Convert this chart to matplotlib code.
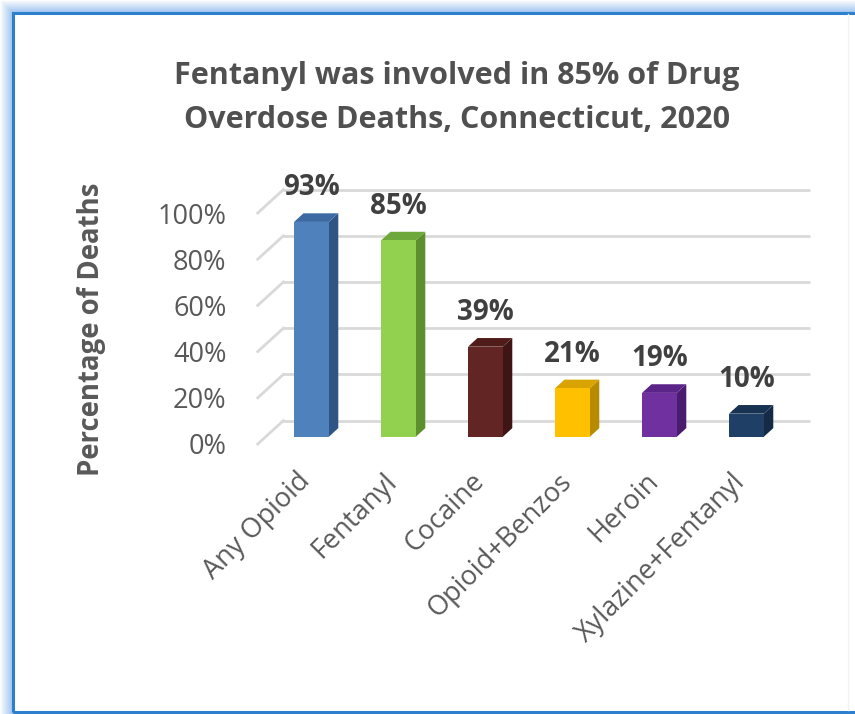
import matplotlib.pyplot as plt
from matplotlib.patches import Rectangle, Polygon
from matplotlib.transforms import ScaledTranslation

plt.rcParams['font.family'] = ['Open Sans', 'DejaVu Sans']

categories = ["Any Opioid", "Fentanyl", "Cocaine", "Opioid+Benzos", "Heroin", "Xylazine+Fentanyl"]
percent = [93, 85, 39, 21, 19, 10]
y_ticks = [0, 20, 40, 60, 80, 100]
y_tick_labels = ["0%", "20%", "40%", "60%", "80%", "100%"]

front_colors = ["#4F81BD", "#92D050", "#632523", "#FFC000", "#7030A0", "#1F3F66"]
side_colors = ["#2F5585", "#5E8F2E", "#3E1514", "#B88A00", "#4A1C70", "#142A47"]
top_colors = ["#3D6AA3", "#6FA83A", "#4F1C1A", "#D9A300", "#5B2488", "#183352"]

title = "Fentanyl was involved in 85% of Drug\nOverdose Deaths, Connecticut, 2020"

# 3d look: full floor depth in data units, bar placement inside that depth
DX, DY = 0.294, 10.1
BAR_FRONT, BAR_BACK = 0.31, 0.68
BAR_W = 0.40
FLOOR_L, FLOOR_R = -0.526, 5.526

fig = plt.figure(figsize=(8.55, 7.14), dpi=100)
W, H = 855, 714
ax_left, ax_right, ax_top, ax_bot = 232, 830, 150, 462
ax = fig.add_axes([ax_left / W, 1 - ax_bot / H, (ax_right - ax_left) / W, (ax_bot - ax_top) / H])
px_x, px_y = 87.0, 2.31
ax.set_xlim((ax_left - 303.5) / px_x, (ax_right - 303.5) / px_x)
ax.set_ylim((444 - ax_bot) / px_y, (444 - ax_top) / px_y)
ax.patch.set_visible(False)
for s in ax.spines.values():
    s.set_visible(False)

# back wall gridlines and the slanted side-wall lines
grid_c = "#D9D9D9"
for t in y_ticks:
    ax.plot([FLOOR_L + DX, FLOOR_R + DX], [t + DY, t + DY], color=grid_c, lw=2, zorder=1,
            solid_capstyle="butt")
    ax.plot([FLOOR_L, FLOOR_L + DX], [t, t + DY], color=grid_c, lw=2, zorder=1)

d = BAR_BACK - BAR_FRONT
for i, v in enumerate(percent):
    xl = i + BAR_FRONT * DX - BAR_W / 2
    xr = xl + BAR_W
    yb = BAR_FRONT * DY
    yt = yb + v
    ax.add_patch(Polygon([(xr, yb), (xr + d * DX, yb + d * DY), (xr + d * DX, yt + d * DY), (xr, yt)],
                         closed=True, facecolor=side_colors[i], edgecolor="none", zorder=2))
    ax.add_patch(Polygon([(xl, yt), (xr, yt), (xr + d * DX, yt + d * DY), (xl + d * DX, yt + d * DY)],
                         closed=True, facecolor=top_colors[i], edgecolor="none", zorder=2))
    ax.add_patch(Rectangle((xl, yb), BAR_W, v, facecolor=front_colors[i], edgecolor="none", zorder=3))
    ax.text(i + BAR_FRONT * DX, yt + d * DY + 11, f"{v}%", ha="center", va="center",
            fontsize=20, fontweight="bold", color="#404040", zorder=4)

ax.set_yticks(y_ticks)
ax.set_yticklabels(y_tick_labels, fontsize=19.5, color="#595959")
ax.tick_params(axis="y", length=0, pad=4)

ax.set_xticks(range(len(categories)))
ax.set_xticklabels(categories, rotation=45, ha="right", va="top", rotation_mode="anchor",
                   fontsize=19.5, color="#595959")
ax.tick_params(axis="x", length=0, pad=4)
shift = ScaledTranslation(-7 / 100, 0, fig.dpi_scale_trans)
for lab in ax.get_xticklabels():
    lab.set_transform(lab.get_transform() + shift)

fig.text(92 / W, 1 - 329 / H, "Percentage of Deaths", rotation=90, ha="center", va="center",
         fontsize=19.8, fontweight="bold", color="#595959")
fig.text(457 / W, 1 - 98 / H, title, ha="center", va="center", fontsize=22,
         fontweight="bold", color="#505050", linespacing=1.6)

# blue frame; the glow is a stack of 1px outlines fading outward
fx0, fy0, fx1, fy1 = 12.5, 2.5, 900, 701.5   # left, bottom, right, top in px
for k in range(1, 13):
    f = (k - 1) / 11
    c = (0.62 + 0.33 * f, 0.77 + 0.2 * f, 0.94 + 0.05 * f)
    fig.patches.append(Rectangle(((fx0 - k) / W, (fy0 - k) / H), (fx1 - fx0 + 2 * k) / W,
                                 (fy1 - fy0 + 2 * k) / H, transform=fig.transFigure,
                                 fill=False, edgecolor=c, lw=0.9))
fig.patches.append(Rectangle((fx0 / W, fy0 / H), (fx1 - fx0) / W, (fy1 - fy0) / H,
                             transform=fig.transFigure, fill=False, edgecolor="#2F7FCF", lw=2.2))
fig.add_artist(plt.Line2D([848 / W, 848 / W], [4 / H, 700 / H], transform=fig.transFigure,
                          color="#F2F2F2", lw=1))

fig.savefig("out.png", dpi=100)
